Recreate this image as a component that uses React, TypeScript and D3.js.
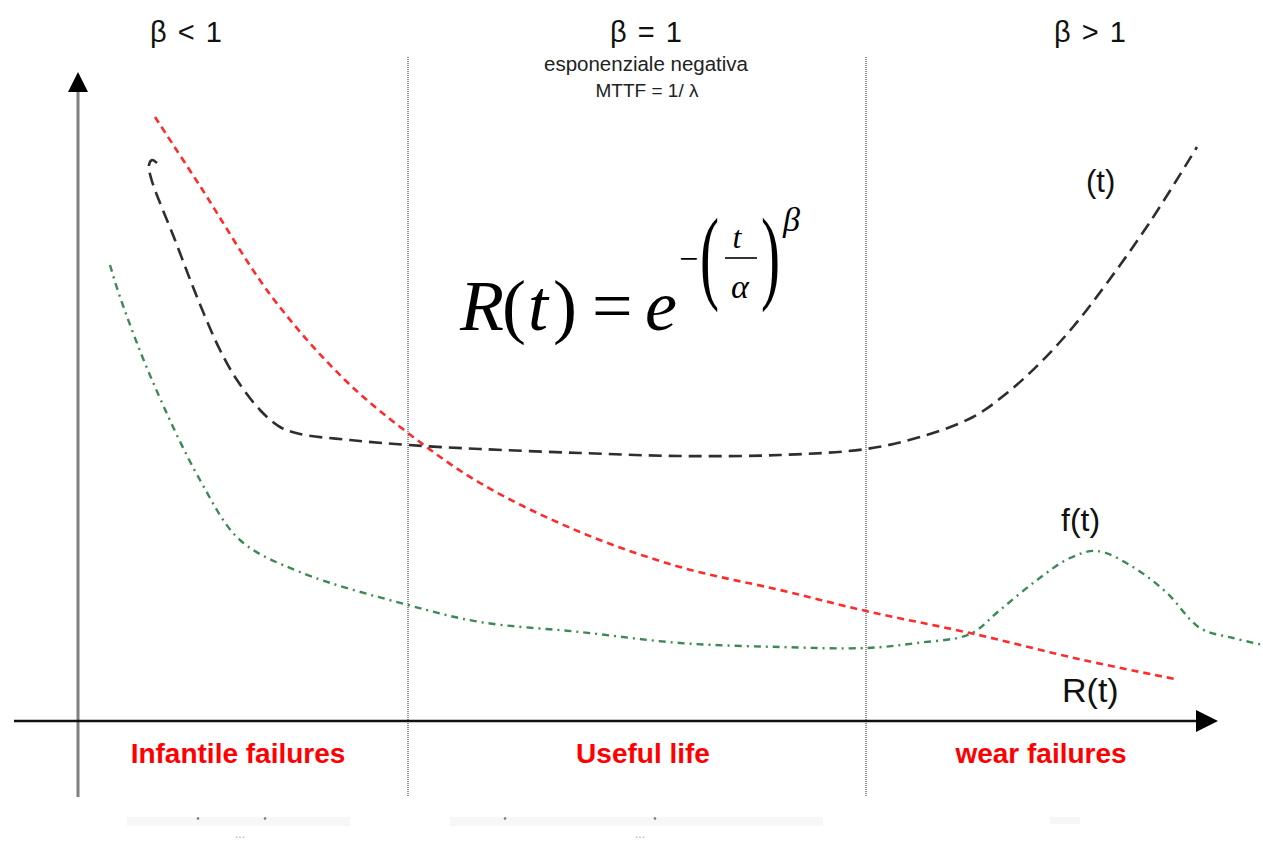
import React from "react";
import * as d3 from "d3";

// Bathtub curve: hazard rate h(t), reliability R(t) and failure density f(t)
// in arbitrary time / value units.
type Pt = [number, number];

const hazard: Pt[] = [
  [7.9, 55.8], [7.4, 56.1], [7.1, 55.6], [7.3, 54.3], [9.7, 48.1], [11.9, 42.4],
  [14.2, 37.1], [15.9, 34.1], [18.2, 31.1], [20.2, 29.4], [22.2, 28.7], [27.2, 28.1],
  [33.0, 27.6], [40.2, 27.2], [50.2, 26.8], [60.2, 26.5], [70.2, 26.6], [78.8, 27.2],
  [84.2, 28.4], [89.5, 30.4], [92.9, 32.8], [96.2, 35.8], [99.5, 39.4], [102.9, 43.8],
  [107.2, 49.9], [111.9, 57.4],
];

const reliability: Pt[] = [
  [7.7, 60.4], [12.2, 53.5], [19.4, 42.4], [26.7, 34.1], [33.0, 28.8], [40.2, 23.8],
  [50.2, 18.9], [60.2, 15.4], [70.2, 13.1], [78.8, 11.0], [89.2, 8.8], [100.5, 6.1],
  [109.7, 4.2],
];

const density: Pt[] = [
  [3.2, 45.6], [4.2, 42.4], [7.4, 34.1], [12.2, 24.1], [16.2, 18.1], [22.2, 14.9],
  [33.0, 11.6], [40.2, 9.9], [50.2, 8.9], [60.2, 7.8], [70.2, 7.4], [78.8, 7.3],
  [83.9, 7.8], [89.2, 8.7], [92.2, 11.1], [95.9, 14.1], [99.2, 16.3], [101.9, 17.0],
  [105.5, 15.4], [108.9, 12.8], [112.2, 9.3], [115.5, 8.3], [118.5, 7.6],
];

// Boundaries between the three life phases
const phaseBounds = [33.0, 78.8];
const phaseBeta = ["β < 1", "β = 1", "β > 1"];
const phaseBetaX = [10.8, 56.8, 101.2];
const phaseNames = ["Infantile failures", "Useful life", "wear failures"];
const phaseNameX = [16.0, 56.5, 96.3];

const W = 1263;
const H = 846;

export default function App() {
  const x = d3.scaleLinear().domain([0, 114]).range([78, 1218]);
  const y = d3.scaleLinear().domain([0, 66.4]).range([721, 57]);

  const line = d3
    .line<Pt>()
    .x((d) => x(d[0]))
    .y((d) => y(d[1]))
    .curve(d3.curveCatmullRom.alpha(0.5));

  const sans = "Arial, 'Liberation Sans', sans-serif";
  const serif = "'Times New Roman', 'Liberation Serif', serif";

  const x0 = x(0);
  const y0 = y(0);
  const yBottom = y(-7.6);
  const yTop = y(64.5);

  return (
    <div style={{ position: "absolute", left: 0, top: 0 }}>
      <svg width={W} height={H} style={{ display: "block", background: "#fff" }}>
        {/* phase dividers */}
        {phaseBounds.map((b, i) => (
          <line
            key={i}
            x1={x(b)}
            x2={x(b)}
            y1={y(66.4)}
            y2={yBottom}
            stroke="#555"
            strokeWidth={1.3}
            strokeDasharray="1,1"
          />
        ))}

        {/* y axis */}
        <line x1={x0} x2={x0} y1={yTop + 14} y2={yBottom} stroke="#808080" strokeWidth={3} />
        <path
          d={`M${x0},${yTop - 4} L${x0 - 10},${yTop + 16} L${x0 + 10},${yTop + 16} Z`}
          fill="#000"
        />

        {/* x axis */}
        <line x1={14} x2={x(112)} y1={y0} y2={y0} stroke="#111" strokeWidth={2.6} />
        <path
          d={`M${x(114)},${y0} L${x(111.8)},${y0 - 11} L${x(111.8)},${y0 + 11} Z`}
          fill="#000"
        />

        {/* curves */}
        <path
          d={line(reliability) ?? ""}
          fill="none"
          stroke="#ff2b2b"
          strokeWidth={2.6}
          strokeDasharray="7,5"
        />
        <path
          d={line(density) ?? ""}
          fill="none"
          stroke="#3b8a56"
          strokeWidth={2.4}
          strokeDasharray="7,5,2,5"
        />
        <path
          d={line(hazard) ?? ""}
          fill="none"
          stroke="#2e2e2e"
          strokeWidth={2.6}
          strokeDasharray="13,7"
        />

        {/* phase headings */}
        {phaseBeta.map((t, i) => (
          <text
            key={t}
            x={x(phaseBetaX[i])}
            y={42}
            textAnchor="middle"
            fontFamily={sans}
            fontSize={29}
            fill="#111"
            textLength={72}
            lengthAdjust="spacing"
          >
            {t}
          </text>
        ))}
        <text x={646} y={71} textAnchor="middle" fontFamily={sans} fontSize={20.5} fill="#222">
          esponenziale negativa
        </text>
        <text x={647} y={97} textAnchor="middle" fontFamily={sans} fontSize={19} fill="#222">
          MTTF = 1/ λ
        </text>

        {/* reliability formula */}
        <g fontFamily={serif} fill="#000">
          <text x={460} y={330} fontSize={72} fontStyle="italic">R</text>
          <text x={502} y={330} fontSize={72}>(</text>
          <text x={528} y={330} fontSize={72} fontStyle="italic">t</text>
          <text x={553} y={330} fontSize={72}>)</text>
          <text x={592} y={330} fontSize={72}>=</text>
          <text x={645} y={330} fontSize={72} fontStyle="italic">e</text>
          <text x={679} y={270} fontSize={34}>−</text>
          <text x={0} y={0} fontSize={104} transform="translate(700,290) scale(0.55,1)">(</text>
          <text x={0} y={0} fontSize={104} transform="translate(761,290) scale(0.55,1)">)</text>
          <text x={737} y={248} fontSize={32} fontStyle="italic" textAnchor="middle">t</text>
          <line x1={725} x2={757} y1={258} y2={258} stroke="#000" strokeWidth={1.6} />
          <text x={740} y={298} fontSize={34} fontStyle="italic" textAnchor="middle">α</text>
          <text x={783} y={231} fontSize={34} fontStyle="italic">β</text>
        </g>

        {/* curve labels */}
        <text x={1086} y={192} fontFamily={sans} fontSize={31} fill="#111">(t)</text>
        <text x={1061} y={531} fontFamily={sans} fontSize={32} fill="#111">f(t)</text>
        <text x={1062} y={702} fontFamily={sans} fontSize={34} fill="#111">R(t)</text>

        {/* phase names */}
        {phaseNames.map((t, i) => (
          <text
            key={t}
            x={x(phaseNameX[i])}
            y={763}
            textAnchor="middle"
            fontFamily={sans}
            fontWeight="bold"
            fontSize={28}
            fill="#ff0000"
          >
            {t}
          </text>
        ))}

        {/* faded footer */}
        <g>
          <rect x={127} y={817} width={223} height={9} fill="#f7f7f7" />
          <rect x={450} y={817} width={373} height={9} fill="#f7f7f7" />
          <rect x={1050} y={817} width={30} height={7} fill="#f6f6f6" />
          {[198, 265, 505, 655].map((cx) => (
            <circle key={cx} cx={cx} cy={818.5} r={1.3} fill="#777" />
          ))}
          <text x={240} y={838} textAnchor="middle" fontFamily={sans} fontSize={12} fill="#aaa">...</text>
          <text x={640} y={838} textAnchor="middle" fontFamily={sans} fontSize={12} fill="#aaa">...</text>
        </g>
      </svg>
    </div>
  );
}
